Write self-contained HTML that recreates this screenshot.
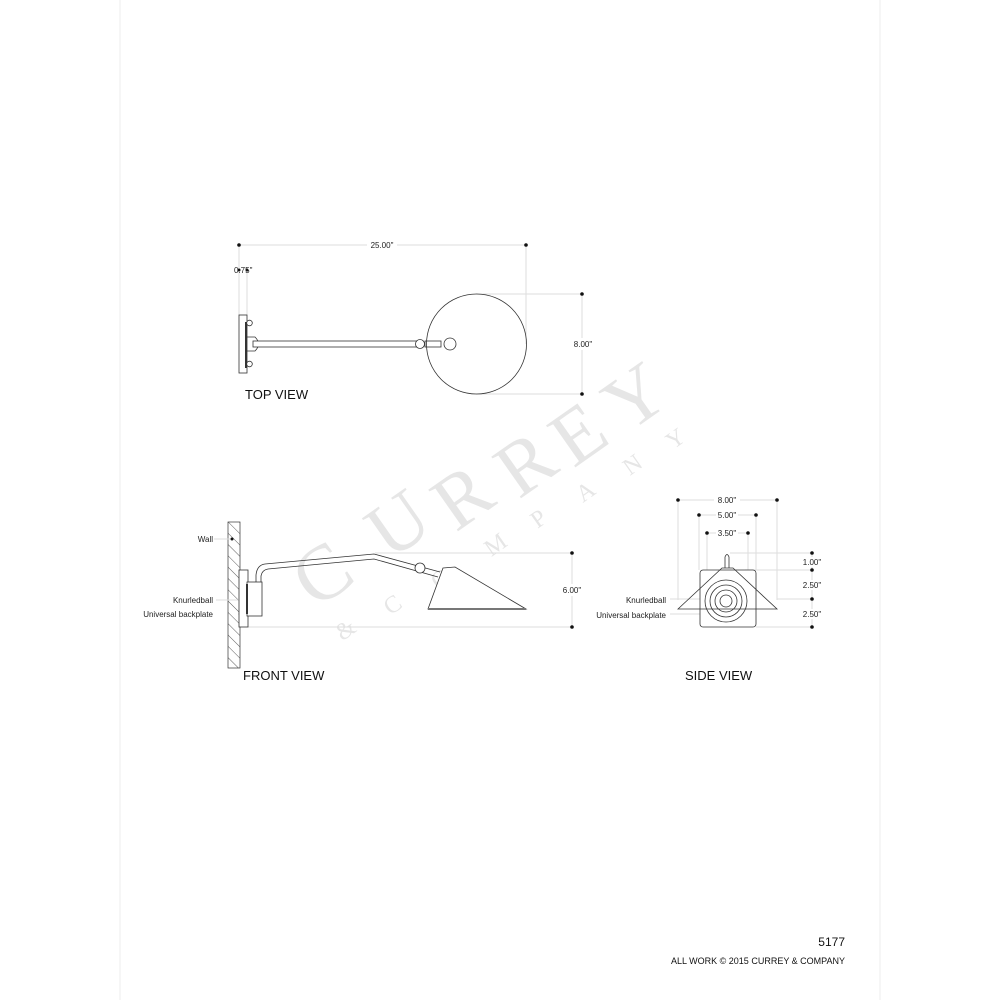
<!DOCTYPE html>
<html><head><style>html,body{margin:0;padding:0;background:#fff}svg{display:block}</style></head>
<body>
<svg width="1000" height="1000" viewBox="0 0 1000 1000" xmlns="http://www.w3.org/2000/svg" font-family="Liberation Sans, sans-serif">
<rect x="0" y="0" width="1000" height="1000" fill="#fff"/>
<line x1="120" y1="0" x2="120" y2="1000" stroke="#eee"/>
<line x1="880" y1="0" x2="880" y2="1000" stroke="#eee"/>
<!-- watermark -->
<g fill="#e6e6e6" font-family="Liberation Serif, serif" font-size="78" text-anchor="middle">
<text transform="translate(337,595) rotate(-35)">C</text>
<text transform="translate(413,545) rotate(-35)">U</text>
<text transform="translate(477,518) rotate(-35)">R</text>
<text transform="translate(540,485) rotate(-35)">R</text>
<text transform="translate(593,455) rotate(-35)">E</text>
<text transform="translate(650,418) rotate(-35)">Y</text>
</g>
<g fill="#e6e6e6" font-family="Liberation Serif, serif" font-size="24" text-anchor="middle">
<text transform="translate(350,636) rotate(-35)">&amp;</text>
<text transform="translate(397,611) rotate(-35)">C</text>
<text transform="translate(445,585) rotate(-35)">O</text>
<text transform="translate(500,551) rotate(-35)">M</text>
<text transform="translate(543,525) rotate(-35)">P</text>
<text transform="translate(590,498) rotate(-35)">A</text>
<text transform="translate(637,471) rotate(-35)">N</text>
<text transform="translate(680,445) rotate(-35)">Y</text>
</g>
<!-- TOP VIEW -->
<g stroke="#ddd" stroke-width="1" fill="none">
<line x1="239" y1="245" x2="526" y2="245"/>
<line x1="526" y1="245" x2="526" y2="344"/>
<line x1="239" y1="245" x2="239" y2="315"/>
<line x1="247" y1="270" x2="247" y2="315"/>
<line x1="476" y1="294" x2="582" y2="294"/>
<line x1="476" y1="394" x2="582" y2="394"/>
<line x1="582" y1="294" x2="582" y2="394"/>
</g>
<rect x="367" y="240" width="30" height="10" fill="#fff"/>
<rect x="570" y="338" width="26" height="12" fill="#fff"/>
<g fill="#111"><circle cx="239" cy="245" r="1.8"/><circle cx="526" cy="245" r="1.8"/><circle cx="582" cy="294" r="1.8"/><circle cx="582" cy="394" r="1.8"/><circle cx="239" cy="270" r="1.5"/><circle cx="247" cy="270" r="1.5"/></g>
<g font-size="8" fill="#222"><text x="382" y="248" text-anchor="middle">25.00"</text><text x="234" y="273">0.75"</text><text x="583" y="347" text-anchor="middle">8.00"</text></g>
<g stroke="#333" stroke-width="0.8" fill="#fff">
<rect x="239" y="315" width="8" height="58"/>
<line x1="246" y1="322" x2="246" y2="368" stroke-width="2"/>
<circle cx="249.5" cy="323" r="2.8"/><circle cx="249.5" cy="364" r="2.8"/>
<path d="M247 337 L255 337 Q262 344 255 351 L247 351 Z"/>
<rect x="253" y="341" width="167" height="6"/>
<rect x="425" y="341" width="16" height="6"/>
<circle cx="420" cy="344" r="4.5"/>
<circle cx="476.5" cy="344" r="50" fill="none"/>
<circle cx="450" cy="344" r="6"/>
</g>
<text x="245" y="399" font-size="13" fill="#111">TOP VIEW</text>
<!-- FRONT VIEW -->
<defs><pattern id="h" width="8" height="8" patternUnits="userSpaceOnUse" patternTransform="rotate(-45)"><line x1="0" y1="0" x2="0" y2="8" stroke="#333" stroke-width="0.8"/></pattern></defs>
<rect x="228" y="522" width="12" height="146" fill="url(#h)" stroke="#333" stroke-width="0.7"/>
<g stroke="#ddd" fill="none">
<line x1="375" y1="553" x2="572" y2="553"/><line x1="248" y1="627" x2="572" y2="627"/><line x1="572" y1="553" x2="572" y2="627"/>
<line x1="214" y1="539" x2="230" y2="539"/><line x1="216" y1="600" x2="248" y2="600"/><line x1="238" y1="614" x2="246" y2="614"/>
</g>
<rect x="560" y="584" width="24" height="12" fill="#fff"/>
<g fill="#111"><circle cx="572" cy="553" r="1.8"/><circle cx="572" cy="627" r="1.8"/><circle cx="232" cy="539" r="1.5"/><circle cx="249" cy="600" r="1.5"/><circle cx="246" cy="614" r="1.5"/></g>
<g font-size="8" fill="#222"><text x="572" y="593" text-anchor="middle">6.00"</text><text x="213" y="542" text-anchor="end">Wall</text><text x="213" y="603" text-anchor="end">Knurledball</text><text x="213" y="617" text-anchor="end">Universal backplate</text></g>
<g stroke="#333" stroke-width="0.8" fill="#fff">
<rect x="239" y="570" width="9" height="57"/>
<rect x="247" y="582" width="15" height="34"/>
<line x1="247" y1="584" x2="247" y2="614" stroke-width="2"/>
<path d="M256 582 L256 575 Q257 565 265 564 L374 554 L440 572" fill="none"/>
<path d="M261 582 L261 576 Q262 570 268 569 L374 559 L438 577" fill="none"/>
<circle cx="420" cy="568" r="5"/>
<path d="M443 568 L455 567 L526 609 L428 609 Z"/>
<line x1="428" y1="609" x2="526" y2="609" stroke="#777" stroke-width="2"/>
</g>
<text x="243" y="680" font-size="13" fill="#111">FRONT VIEW</text>
<!-- SIDE VIEW -->
<g stroke="#ddd" fill="none">
<line x1="678" y1="500" x2="777" y2="500"/><line x1="678" y1="500" x2="678" y2="600"/><line x1="777" y1="500" x2="777" y2="600"/>
<line x1="699" y1="515" x2="756" y2="515"/><line x1="699" y1="515" x2="699" y2="570"/><line x1="756" y1="515" x2="756" y2="570"/>
<line x1="707" y1="533" x2="748" y2="533"/><line x1="707" y1="533" x2="707" y2="580"/><line x1="748" y1="533" x2="748" y2="580"/>
<line x1="730" y1="553" x2="812" y2="553"/><line x1="745" y1="570" x2="812" y2="570"/><line x1="777" y1="599" x2="812" y2="599"/><line x1="756" y1="627" x2="812" y2="627"/>
<line x1="812" y1="553" x2="812" y2="627"/>
<line x1="670" y1="599" x2="706" y2="599"/><line x1="670" y1="614" x2="709" y2="614"/>
</g>
<rect x="714" y="495" width="26" height="10" fill="#fff"/><rect x="716" y="510" width="22" height="10" fill="#fff"/><rect x="716" y="528" width="22" height="10" fill="#fff"/>
<rect x="800" y="557" width="24" height="10" fill="#fff"/><rect x="800" y="580" width="24" height="10" fill="#fff"/><rect x="800" y="609" width="24" height="10" fill="#fff"/>
<g fill="#111">
<circle cx="678" cy="500" r="1.8"/><circle cx="777" cy="500" r="1.8"/><circle cx="699" cy="515" r="1.8"/><circle cx="756" cy="515" r="1.8"/><circle cx="707" cy="533" r="1.8"/><circle cx="748" cy="533" r="1.8"/>
<circle cx="812" cy="553" r="1.8"/><circle cx="812" cy="570" r="1.8"/><circle cx="812" cy="599" r="1.8"/><circle cx="812" cy="627" r="1.8"/>
</g>
<g font-size="8" fill="#222"><text x="727" y="503" text-anchor="middle">8.00"</text><text x="727" y="518" text-anchor="middle">5.00"</text><text x="727" y="536" text-anchor="middle">3.50"</text>
<text x="812" y="565" text-anchor="middle">1.00"</text><text x="812" y="588" text-anchor="middle">2.50"</text><text x="812" y="617" text-anchor="middle">2.50"</text>
<text x="666" y="603" text-anchor="end">Knurledball</text><text x="666" y="618" text-anchor="end">Universal backplate</text></g>
<g stroke="#333" stroke-width="0.8" fill="none">
<path d="M725 568 L725 557 Q727 552 729 557 L729 568"/>
<rect x="700" y="570" width="56" height="57" rx="3" fill="#fff"/>
<circle cx="726" cy="601" r="21"/><circle cx="726" cy="601" r="16"/><circle cx="726" cy="601" r="11"/><circle cx="726" cy="601" r="6"/>
<path d="M678 609 L722 568 L733 568 L777 609 Z"/>
</g>
<text x="685" y="680" font-size="13" fill="#111">SIDE VIEW</text>
<!-- footer -->
<text x="845" y="946" font-size="12" fill="#111" text-anchor="end">5177</text>
<text x="845" y="964" font-size="9" fill="#111" text-anchor="end">ALL WORK © 2015 CURREY &amp; COMPANY</text>
</svg>
</body></html>
